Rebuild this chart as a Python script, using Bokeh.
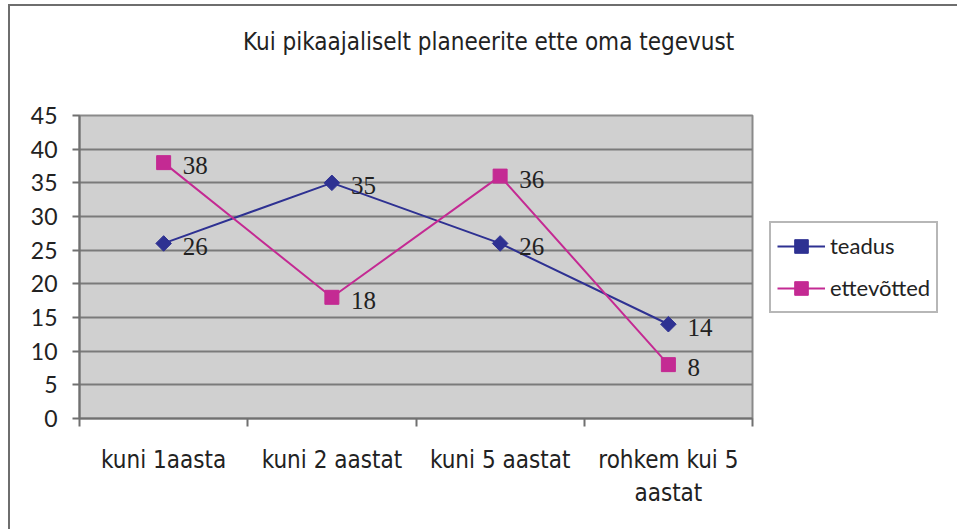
import math
from bokeh.plotting import figure
from bokeh.layouts import column
from bokeh.models import (FixedTicker, Legend, LegendItem, ColumnDataSource, Range1d, Div)
from bokeh.embed import file_html
from bokeh.resources import INLINE
from bokeh.core.properties import value

title_text = "Kui pikaajaliselt planeerite ette oma tegevust"
categories = ["kuni 1aasta", "kuni 2 aastat", "kuni 5 aastat", "rohkem kui 5\naastat"]
teadus = [26, 35, 26, 14]
ettevotted = [38, 18, 36, 8]
series_names = ["teadus", "ettevõtted"]
y_ticks = [0, 5, 10, 15, 20, 25, 30, 35, 40, 45]

NAVY = "#2E3192"
MAGENTA = "#C42A93"
COND = "DejaVu Sans Condensed"

xpos = [i + 0.5 for i in range(len(categories))]

head = Div(text=f'<div style="padding-left:228px; white-space:nowrap;">{title_text}</div>',
           width=947, height=62,
           styles={"font-family": COND, "font-size": "24px", "line-height": "62px",
                   "color": "#222222"})

p = figure(frame_width=673, frame_height=303, output_backend="svg", toolbar_location=None,
           x_range=Range1d(0, len(categories)), y_range=Range1d(0, 45))
p.min_border_left = 69
p.min_border_right = 0
p.min_border_top = 37
p.min_border_bottom = 111
p.background_fill_color = "#D0D0D0"
p.border_fill_color = "white"
p.outline_line_color = "#8a8a8a"
p.outline_line_width = 2

# grid
p.xgrid.visible = False
p.ygrid.ticker = FixedTicker(ticks=y_ticks)
p.ygrid.grid_line_color = "#7a7a7a"
p.ygrid.grid_line_width = 2

# y axis
p.yaxis.ticker = FixedTicker(ticks=y_ticks)
p.yaxis.axis_line_color = "#707070"
p.yaxis.axis_line_width = 2
p.yaxis.major_tick_line_color = "#707070"
p.yaxis.major_tick_line_width = 2
p.yaxis.major_tick_out = 7
p.yaxis.major_tick_in = 0
p.yaxis.minor_tick_line_color = None
p.yaxis.major_label_standoff = 15
p.yaxis.major_label_text_font = "Lato"
p.yaxis.major_label_text_font_size = "23px"
p.yaxis.major_label_text_color = "#222222"

# x axis
p.xaxis.ticker = FixedTicker(ticks=xpos, minor_ticks=list(range(len(categories) + 1)))
p.xaxis.major_label_overrides = {x: c for x, c in zip(xpos, categories)}
p.xaxis.axis_line_color = "#707070"
p.xaxis.axis_line_width = 2
p.xaxis.major_tick_line_color = None
p.xaxis.major_tick_out = 0
p.xaxis.major_tick_in = 0
p.xaxis.minor_tick_line_color = "#707070"
p.xaxis.minor_tick_line_width = 2
p.xaxis.minor_tick_out = 8
p.xaxis.minor_tick_in = 0
p.xaxis.major_label_standoff = 19
p.xaxis.major_label_text_font = COND
p.xaxis.major_label_text_font_size = "24px"
p.xaxis.major_label_text_color = "#222222"
p.xaxis.major_label_text_align = "center"

src = ColumnDataSource(dict(x=xpos, t=teadus, e=ettevotted,
                            tl=[str(v) for v in teadus], el=[str(v) for v in ettevotted]))

l1 = p.line("x", "t", source=src, line_color=NAVY, line_width=2)
m1 = p.scatter("x", "t", source=src, marker="square", angle=math.pi / 4, size=11,
               fill_color=NAVY, line_color=NAVY)
l2 = p.line("x", "e", source=src, line_color=MAGENTA, line_width=2)
m2 = p.scatter("x", "e", source=src, marker="square", size=14, fill_color=MAGENTA, line_color=MAGENTA)

p.text("x", "t", text="tl", source=src, x_offset=19, y_offset=3, text_baseline="middle",
       text_font=value("Liberation Serif"), text_font_size="25px", text_color="#222222")
p.text("x", "e", text="el", source=src, x_offset=19, y_offset=3, text_baseline="middle",
       text_font=value("Liberation Serif"), text_font_size="25px", text_color="#222222")

legend = Legend(items=[LegendItem(label=series_names[0], renderers=[l1, m1]),
                       LegendItem(label=series_names[1], renderers=[l2, m2])],
                location="center_left")
legend.border_line_color = "#707070"
legend.border_line_width = 2
legend.background_fill_color = "white"
legend.background_fill_alpha = 1
legend.label_text_font = "Lato"
legend.label_text_font_size = "22px"
legend.label_text_color = "#222222"
legend.glyph_width = 48
legend.glyph_height = 34
legend.spacing = 8
legend.padding = 6
legend.margin = 17
legend.label_standoff = 5
p.add_layout(legend, "right")

layout = column(head, p, spacing=0)
layout.styles = {"margin-left": "8px", "margin-top": "4px",
                 "border-left": "2px solid #6e6e6e", "border-top": "2px solid #6e6e6e"}

open("out.html", "w").write(file_html(layout, INLINE))
